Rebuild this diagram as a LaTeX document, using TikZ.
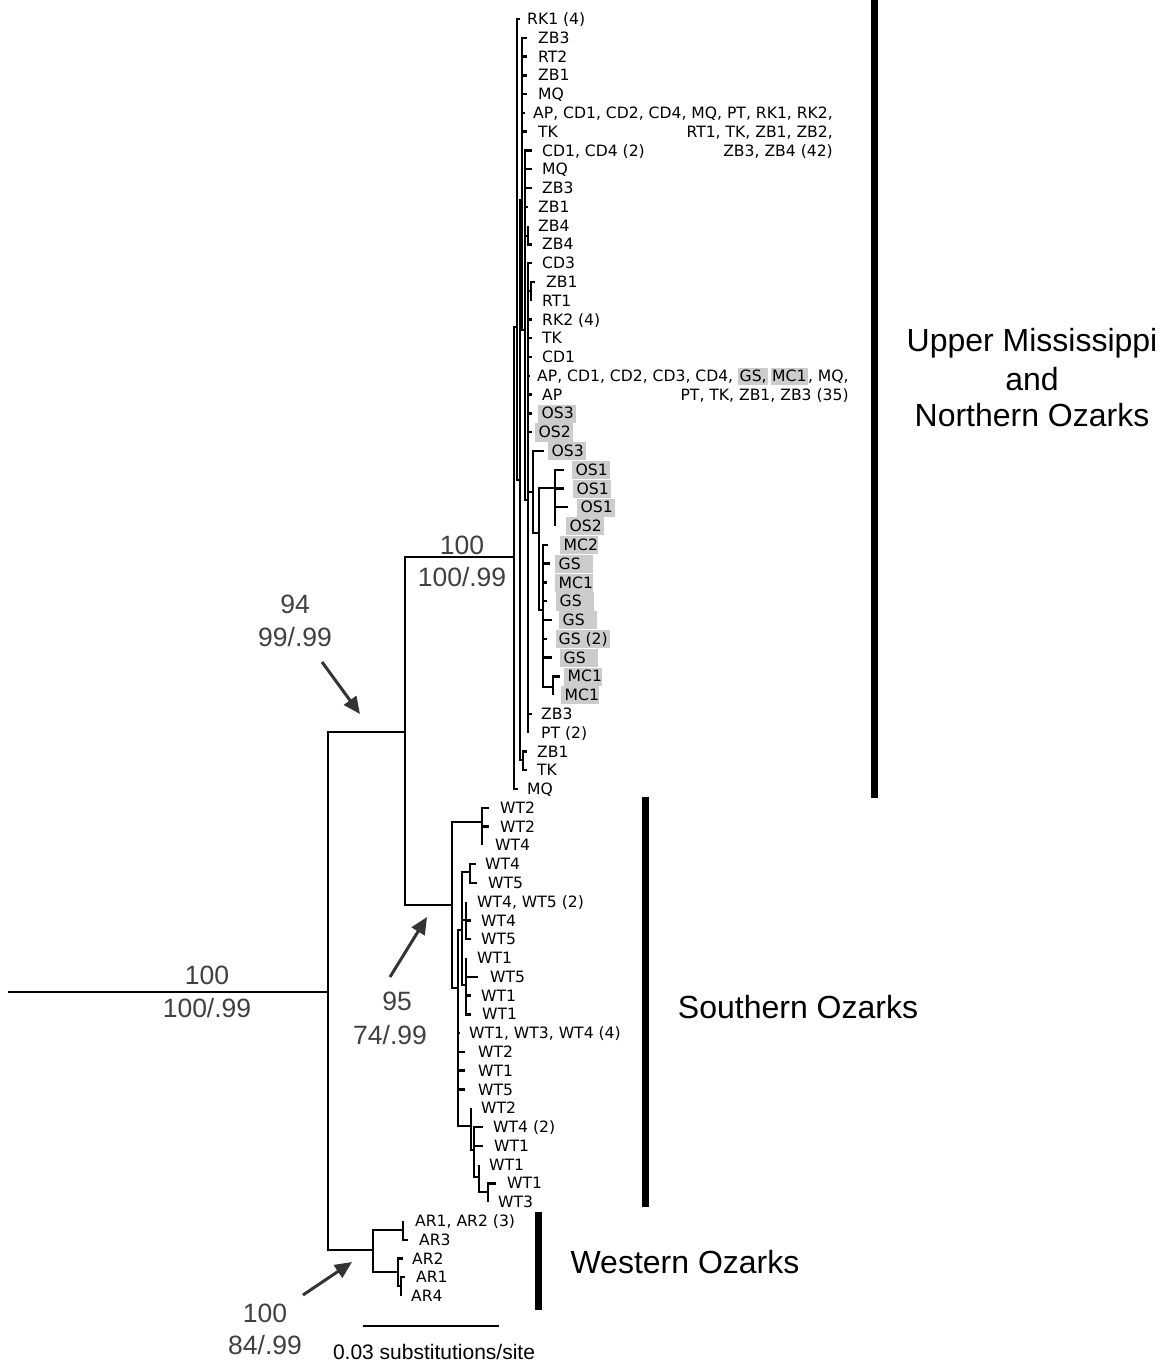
\documentclass[tikz,border=0pt]{standalone}
\usepackage{fontspec}
\setmainfont{DejaVu Sans}
\newfontfamily\labfont{Liberation Sans}
\usetikzlibrary{arrows.meta}
\definecolor{hlgray}{HTML}{CCCCCC}
\definecolor{supgray}{HTML}{404040}
\definecolor{arrowgray}{HTML}{333333}
\newcommand\leaffont{\fontsize{15.6}{18.78}\selectfont}
\newcommand\supfont{\labfont\fontsize{26.5}{30}\selectfont}
\newcommand\grpfont{\labfont\fontsize{32}{37.5}\selectfont}
\newcommand\hlbox[1]{{\setlength{\fboxsep}{0pt}\colorbox{hlgray}{\rule[-3.5pt]{0pt}{16.5pt}\hspace{1.5pt}#1\hspace{1.5pt}}}}
% name, tip x, row, label x, text
\newcommand\leaf[5]{%
  \coordinate (#1) at ({#2},{19+18.78*#3});
  \node[lab] (#1l) at ({#4},{19+18.78*#3+5.6}) {#5};}
\newcommand\hleaf[5]{%
  \coordinate (#1) at ({#2},{19+18.78*#3});
  \node[hlab] (#1l) at ({#4},{19+18.78*#3+5.6}) {\makebox[31pt][l]{#5}};}
\newcommand\hleafw[5]{%
  \coordinate (#1) at ({#2},{19+18.78*#3});
  \node[hlab, inner xsep=2.5pt] (#1l) at ({#4},{19+18.78*#3+5.6}) {#5};}
\newcommand\mleaf[5]{%
  \coordinate (#1) at ({#2},{19+18.78*#3});
  \node[lab] (#1l) at ({#4},{19+18.78*#3+5.6}) {\begin{tabular}[t]{@{}r@{}}#5\end{tabular}};}
\tikzset{
  br/.style={line width=2.4pt, line join=miter},
  lab/.style={anchor=base west, inner sep=0pt, font=\leaffont},
  hlab/.style={anchor=base west, fill=hlgray, inner xsep=3.5pt, inner ysep=0.8pt,
    text height=13.5pt, text depth=3pt, font=\leaffont},
  sup/.style={anchor=base, inner sep=0pt, text=supgray, font=\supfont},
  grp/.style={anchor=base, inner sep=0pt, font=\grpfont},
  bar/.style={line width=7pt},
  arr/.style={arrowgray, line width=3pt, -{Triangle[length=17pt,width=15pt]}},
}
\begin{document}
\begin{tikzpicture}[x=1pt,y=-1pt]
\fill[white] (0,0) rectangle (1165,1364);
\useasboundingbox (0,0) rectangle (1165,1364);

% ---------- leaves: Upper Mississippi / Northern Ozarks ----------
\leaf{t0}{520}{0}{527}{RK1 (4)}
\leaf{t1}{527}{1}{538}{ZB3}
\leaf{t2}{527}{2}{538}{RT2}
\leaf{t3}{527}{3}{538}{ZB1}
\leaf{t4}{527}{4}{538}{MQ}
\mleaf{t5}{525}{5}{533}{AP, CD1, CD2, CD4, MQ, PT, RK1, RK2,\\ RT1, TK, ZB1, ZB2,\\ ZB3, ZB4 (42)}
\leaf{t6}{527}{6}{538}{TK}
\leaf{t7}{532}{7}{542}{CD1, CD4 (2)}
\leaf{t8}{532}{8}{542}{MQ}
\leaf{t9}{532}{9}{542}{ZB3}
\leaf{t10}{528}{10}{538}{ZB1}
\leaf{t11}{528}{11}{538}{ZB4}
\leaf{t12}{532}{12}{542}{ZB4}
\leaf{t13}{532}{13}{542}{CD3}
\leaf{t14}{535}{14}{546}{ZB1}
\leaf{t15}{531}{15}{542}{RT1}
\leaf{t16}{532}{16}{542}{RK2 (4)}
\leaf{t17}{532}{17}{542}{TK}
\leaf{t18}{532}{18}{542}{CD1}
\mleaf{t19}{530}{19}{537}{AP, CD1, CD2, CD3, CD4, \hlbox{GS,}\,\hlbox{MC1}, MQ,\\ PT, TK, ZB1, ZB3 (35)}
\leaf{t20}{532}{20}{542}{AP}
\hleaf{t21}{532}{21}{538}{OS3}
\hleaf{t22}{532}{22}{535}{OS2}
\hleaf{t23}{544}{23}{548}{OS3}
\hleaf{t24}{564}{24}{572}{OS1}
\hleaf{t25}{564}{25}{573}{OS1}
\hleaf{t26}{568}{26}{577}{OS1}
\hleaf{t27}{555}{27}{566}{OS2}
\hleaf{t28}{548}{28}{560}{MC2}
\hleaf{t29}{550}{29}{555}{GS}
\hleaf{t30}{547}{30}{555}{MC1}
\hleaf{t31}{547}{31}{556}{GS}
\hleaf{t32}{552}{32}{559}{GS}
\hleafw{t33}{547}{33}{556}{GS (2)}
\hleaf{t34}{552}{34}{560}{GS}
\hleaf{t35}{560}{35}{564}{MC1}
\hleaf{t36}{553}{36}{561}{MC1}
\leaf{t37}{532}{37}{541}{ZB3}
\leaf{t38}{528}{38}{541}{PT (2)}
\leaf{t39}{527}{39}{537}{ZB1}
\leaf{t40}{527}{40}{537}{TK}
\leaf{t41}{518}{41}{527}{MQ}

% ---------- leaves: Southern Ozarks ----------
\leaf{t42}{489}{42}{500}{WT2}
\leaf{t43}{489}{43}{500}{WT2}
\leaf{t44}{482}{44}{495}{WT4}
\leaf{t45}{476}{45}{485}{WT4}
\leaf{t46}{477}{46}{488}{WT5}
\leaf{t47}{466}{47}{477}{WT4, WT5 (2)}
\leaf{t48}{471}{48}{481}{WT4}
\leaf{t49}{471}{49}{481}{WT5}
\leaf{t50}{466}{50}{477}{WT1}
\leaf{t51}{478}{51}{490}{WT5}
\leaf{t52}{471}{52}{481}{WT1}
\leaf{t53}{471}{53}{482}{WT1}
\leaf{t54}{460}{54}{469}{WT1, WT3, WT4 (4)}
\leaf{t55}{465}{55}{478}{WT2}
\leaf{t56}{465}{56}{478}{WT1}
\leaf{t57}{465}{57}{478}{WT5}
\leaf{t58}{471}{58}{481}{WT2}
\leaf{t59}{483}{59}{493}{WT4 (2)}
\leaf{t60}{483}{60}{494}{WT1}
\leaf{t61}{479}{61}{489}{WT1}
\leaf{t62}{496}{62}{507}{WT1}
\leaf{t63}{488}{63}{498}{WT3}

% ---------- leaves: Western Ozarks ----------
\leaf{t64}{403}{64}{415}{AR1, AR2 (3)}
\leaf{t65}{408}{65}{419}{AR3}
\leaf{t66}{403}{66}{412}{AR2}
\leaf{t67}{405}{67}{416}{AR1}
\leaf{t68}{401}{68}{411}{AR4}

% ---------- internal nodes ----------
\coordinate (R0) at (8,992);
\coordinate (R) at (328,992);
\coordinate (B1) at (405,732);
\coordinate (A0) at (514,557);
\coordinate (A1) at (517,327);
\coordinate (A2) at (520,480);
\coordinate (A3) at (522,200);
\coordinate (A4) at (523,760);
\coordinate (A5) at (525,330);
\coordinate (A9) at (528,236);
\coordinate (A6) at (528,500);
\coordinate (A10) at (531,291);
\coordinate (A11) at (533,492);
\coordinate (A12) at (539,533);
\coordinate (A13) at (555,488);
\coordinate (A14) at (543,610);
\coordinate (A15) at (553,687);
\coordinate (S0) at (452,905);
\coordinate (S1) at (482,822);
\coordinate (S2) at (458,988);
\coordinate (S3) at (462,930);
\coordinate (S4) at (470,872);
\coordinate (S5) at (466,920);
\coordinate (S6) at (466,985);
\coordinate (S7) at (471,1126);
\coordinate (S8) at (474,1150);
\coordinate (S9) at (479,1177);
\coordinate (S10) at (488,1192);
\coordinate (W0) at (373,1250);
\coordinate (W1) at (403,1230);
\coordinate (W2) at (398,1272);
\coordinate (W3) at (401,1286);

% ---------- branches ----------
\draw[br] (R0) -- (R);
\foreach \p/\c in {R/B1, R/W0, B1/A0, B1/S0,
  A0/A1, A0/t41, A1/t0, A1/A2, A2/A3, A2/A4,
  A3/t1, A3/t2, A3/t3, A3/t4, A3/t5, A3/t6, A3/A5,
  A5/t7, A5/t8, A5/t9, A5/t10, A5/A9, A5/A6, A9/t11, A9/t12,
  A6/t13, A6/A10, A6/t16, A6/t17, A6/t18, A6/t19, A6/t20, A6/t21, A6/t22,
  A6/A11, A6/t37, A6/t38, A10/t14, A10/t15,
  A11/t23, A11/A12, A12/A13, A12/A14,
  A13/t24, A13/t25, A13/t26, A13/t27,
  A14/t28, A14/t29, A14/t30, A14/t31, A14/t32, A14/t33, A14/t34, A14/A15,
  A15/t35, A15/t36, A4/t39, A4/t40,
  S0/S1, S0/S2, S1/t42, S1/t43, S1/t44,
  S2/S3, S2/t54, S2/t55, S2/t56, S2/t57, S2/S7,
  S3/S4, S3/S5, S3/S6, S4/t45, S4/t46, S5/t47, S5/t48, S5/t49,
  S6/t50, S6/t51, S6/t52, S6/t53,
  S7/t58, S7/S8, S8/t59, S8/t60, S8/S9, S9/t61, S9/S10, S10/t62, S10/t63,
  W0/W1, W0/W2, W1/t64, W1/t65, W2/t66, W2/W3, W3/t67, W3/t68}
  {\draw[br] (\p) |- (\c);}

% ---------- clade bars and labels ----------
\coordinate (ub1) at (874,0);   \coordinate (ub2) at (874,798);
\coordinate (sb1) at (645,797); \coordinate (sb2) at (645,1207);
\coordinate (wb1) at (538,1212); \coordinate (wb2) at (538,1310);
\draw[bar] (ub1) -- (ub2);
\draw[bar] (sb1) -- (sb2);
\draw[bar] (wb1) -- (wb2);
\node[grp] (um1) at (1032,351.5) {Upper Mississippi};
\node[grp] (um2) at (1032,390.5) {and};
\node[grp] (um3) at (1032,426.5) {Northern Ozarks};
\node[grp] (so) at (798,1018.5) {Southern Ozarks};
\node[grp] (wo) at (685,1273.5) {Western Ozarks};

% ---------- support values ----------
\node[sup] (s1a) at (462,554.5) {100};
\node[sup] (s1b) at (462,586.5) {100/.99};
\node[sup] (s2a) at (295,613.5) {94};
\node[sup] (s2b) at (295,646.5) {99/.99};
\node[sup] (s3a) at (207,984.5) {100};
\node[sup] (s3b) at (207,1017.5) {100/.99};
\node[sup] (s4a) at (397,1010.5) {95};
\node[sup] (s4b) at (390,1044.5) {74/.99};
\node[sup] (s5a) at (265,1322.5) {100};
\node[sup] (s5b) at (265,1354.5) {84/.99};

% ---------- arrows ----------
\coordinate (a1s) at (322,662); \coordinate (a1e) at (360,714);
\coordinate (a2s) at (390,977); \coordinate (a2e) at (427,917);
\coordinate (a3s) at (303,1295); \coordinate (a3e) at (352,1262);
\draw[arr] (a1s) -- (a1e);
\draw[arr] (a2s) -- (a2e);
\draw[arr] (a3s) -- (a3e);

% ---------- scale bar ----------
\coordinate (sc1) at (363,1326); \coordinate (sc2) at (499,1326);
\draw[line width=2pt] (sc1) -- (sc2);
\node[anchor=base, inner sep=0pt, font=\labfont\fontsize{21}{24}\selectfont] (scl) at (434,1359) {0.03 substitutions/site};
\end{tikzpicture}
\end{document}
